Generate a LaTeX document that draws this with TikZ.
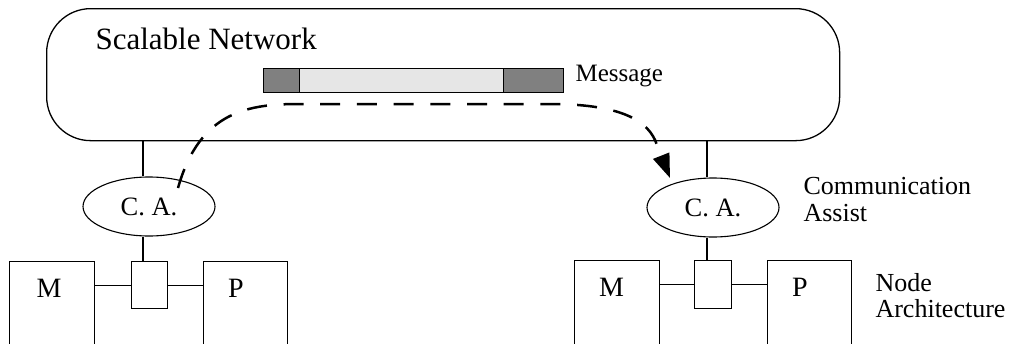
\documentclass[tikz,border=0pt]{standalone}
\usepackage{fontspec}
\setmainfont{Liberation Serif}
\usetikzlibrary{shapes.geometric,arrows.meta}
\definecolor{hdrgray}{HTML}{808080}
\definecolor{bodygray}{HTML}{E6E6E6}
\begin{document}
\begin{tikzpicture}[x=1pt,y=-1pt,line width=1.1pt,
  box/.style={draw,rectangle,inner sep=0pt,anchor=north west},
  cabox/.style={draw,ellipse,inner sep=0pt,minimum width=132pt,minimum height=59pt,font=\fontsize{26.5}{28}\selectfont},
  lbl/.style={font=\fontsize{26}{27}\selectfont,inner sep=0pt,anchor=base west},
  boxtxt/.style={font=\fontsize{28}{28}\selectfont,inner sep=0pt,anchor=base},
  msgpart/.style={draw,rectangle,inner sep=0pt,anchor=north west,minimum height=24pt,line width=1pt},
  flow/.style={line width=2.5pt,dash pattern=on 20pt off 16.7pt,-{Triangle[length=24pt,width=17pt]}}]
\useasboundingbox (0,0) rectangle (1011,343);
\clip (0,0) rectangle (1011,343);
% network
\node[draw,rectangle,rounded corners=44pt,inner sep=0pt,anchor=north west,minimum width=793pt,minimum height=132pt,line width=1.3pt] (net) at (46,8) {};
\node[lbl,font=\fontsize{31}{32}\selectfont] (nettxt) at (95,49) {Scalable Network};
% message
\node[msgpart,fill=hdrgray,minimum width=36pt] (mL) at (263,68) {};
\node[msgpart,fill=bodygray,minimum width=204pt] (mM) at (299,68) {};
\node[msgpart,fill=hdrgray,minimum width=60pt] (mR) at (503,68) {};
\node[lbl,font=\fontsize{25}{26}\selectfont] (msgtxt) at (575,81) {Message};
% communication assists
\node[cabox] (ca1) at (149,206.5) {C. A.};
\node[cabox] (ca2) at (713,207.5) {C. A.};
\node[lbl] (comm1) at (803,194) {Communication};
\node[lbl] (comm2) at (803,221) {Assist};
% node architecture left
\node[box,minimum width=85pt,minimum height=100pt] (m1) at (9,261) {};
\node[box,minimum width=36pt,minimum height=47pt] (sb1) at (131,261) {};
\node[box,minimum width=84pt,minimum height=100pt] (p1) at (203,261) {};
\node[boxtxt] (m1t) at (49,297) {M};
\node[boxtxt] (p1t) at (236,297) {P};
% node architecture right
\node[box,minimum width=85pt,minimum height=100pt] (m2) at (574,260) {};
\node[box,minimum width=37pt,minimum height=48pt] (sb2) at (694,260) {};
\node[box,minimum width=84pt,minimum height=100pt] (p2) at (767,260) {};
\node[boxtxt] (m2t) at (611.5,296) {M};
\node[boxtxt] (p2t) at (800,296) {P};
\node[lbl] (na1) at (875,291) {Node};
\node[lbl] (na2) at (875,317) {Architecture};
% connectors
\coordinate (v1) at (143,0);
\coordinate (v2) at (707,0);
\draw (v1 |- net.south) -- (v1 |- ca1.north);
\draw (v1 |- ca1.south) -- (v1 |- sb1.north);
\draw (v2 |- net.south) -- (v2 |- ca2.north);
\draw (v2 |- ca2.south) -- (v2 |- sb2.north);
\draw (sb1.west) -- (sb1.west -| m1.east);
\draw (sb1.east) -- (sb1.east -| p1.west);
\draw (sb2.west) -- (sb2.west -| m2.east);
\draw (sb2.east) -- (sb2.east -| p2.west);
% message flow
\coordinate (fs) at (178,188);
\coordinate (fb) at (655,140);
\coordinate (ft) at (670,178);
\draw[flow] (fs) .. controls (200,110) and (250,104) .. (300,104) -- (550,104) .. controls (615,104) and (645,118) .. (fb) -- (ft);
\end{tikzpicture}
\end{document}
